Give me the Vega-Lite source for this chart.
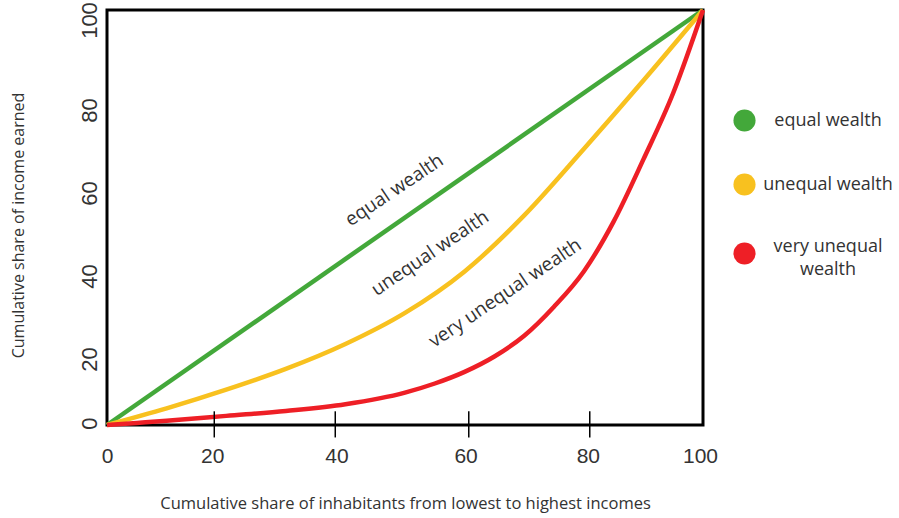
{
  "$schema": "https://vega.github.io/schema/vega-lite/v6.json",
  "width": 596,
  "height": 415,
  "autosize": {"type": "none"},
  "padding": {"left": 107, "top": 10, "right": 196, "bottom": 93},
  "background": "white",
  "config": {"view": {"stroke": "black", "strokeWidth": 3}, "font": "Open Sans"},
  "datasets": {
    "curves": [
      {"share": 0, "income": 0, "series": "equal wealth"},
      {"share": 100, "income": 100, "series": "equal wealth"},
      {"share": 0, "income": 0, "series": "unequal wealth"},
      {"share": 10, "income": 4, "series": "unequal wealth"},
      {"share": 20, "income": 8.5, "series": "unequal wealth"},
      {"share": 30, "income": 13.5, "series": "unequal wealth"},
      {"share": 40, "income": 19.5, "series": "unequal wealth"},
      {"share": 50, "income": 27, "series": "unequal wealth"},
      {"share": 60, "income": 37, "series": "unequal wealth"},
      {"share": 70, "income": 50.5, "series": "unequal wealth"},
      {"share": 80, "income": 66.5, "series": "unequal wealth"},
      {"share": 90, "income": 83, "series": "unequal wealth"},
      {"share": 100, "income": 100, "series": "unequal wealth"},
      {"share": 0, "income": 0, "series": "very unequal wealth"},
      {"share": 5, "income": 0.5, "series": "very unequal wealth"},
      {"share": 10, "income": 1, "series": "very unequal wealth"},
      {"share": 20, "income": 2.2, "series": "very unequal wealth"},
      {"share": 30, "income": 3.4, "series": "very unequal wealth"},
      {"share": 40, "income": 5, "series": "very unequal wealth"},
      {"share": 50, "income": 7.8, "series": "very unequal wealth"},
      {"share": 55, "income": 10, "series": "very unequal wealth"},
      {"share": 60, "income": 12.8, "series": "very unequal wealth"},
      {"share": 65, "income": 16.5, "series": "very unequal wealth"},
      {"share": 70, "income": 21.5, "series": "very unequal wealth"},
      {"share": 75, "income": 28.5, "series": "very unequal wealth"},
      {"share": 80, "income": 37, "series": "very unequal wealth"},
      {"share": 85, "income": 49, "series": "very unequal wealth"},
      {"share": 90, "income": 64, "series": "very unequal wealth"},
      {"share": 95, "income": 80, "series": "very unequal wealth"},
      {"share": 100, "income": 100, "series": "very unequal wealth"}
    ],
    "ticks": [{"value": 18.0}, {"value": 38.3}, {"value": 60.7}, {"value": 81.0}],
    "annotations": [
      {"label": "equal wealth", "share": 48.2, "income": 56.6},
      {"label": "unequal wealth", "share": 54.2, "income": 41.4},
      {"label": "very unequal wealth", "share": 66.8, "income": 31.8}
    ]
  },
  "layer": [
    {
      "data": {"name": "curves"},
      "mark": {"type": "line", "strokeWidth": 4.5, "interpolate": "monotone", "clip": false},
      "encoding": {
        "x": {
          "field": "share", "type": "quantitative",
          "scale": {"domain": [0, 100], "nice": false, "zero": false},
          "axis": {
            "title": "Cumulative share of inhabitants from lowest to highest incomes",
            "titleFont": "Open Sans", "titleFontSize": 16.5, "titleFontWeight": "normal", "titleColor": "#333",
            "titleY": 78, "titleBaseline": "middle",
            "values": [0, 20, 40, 60, 80, 100],
            "labelFont": "Liberation Sans", "labelFontSize": 21, "labelColor": "#333",
            "labelPadding": 20, "labelFlush": false, "labelOverlap": false,
            "labelOffset": {"expr": "datum.value == 20 ? -14 : datum.value == 40 ? -9 : datum.value == 60 ? 1 : datum.value == 80 ? 4 : datum.value == 100 ? -3 : 0"},
            "ticks": false, "domain": false, "grid": false
          }
        },
        "y": {
          "field": "income", "type": "quantitative",
          "scale": {"domain": [0, 100], "nice": false, "zero": false},
          "axis": {
            "title": "Cumulative share of income earned",
            "titleFont": "Open Sans", "titleFontSize": 16, "titleFontWeight": "normal", "titleColor": "#333",
            "titleX": -89, "titleY": 215, "titleAngle": 270, "titleBaseline": "middle", "titleAlign": "center",
            "values": [0, 20, 40, 60, 80, 100],
            "labelFont": "Liberation Sans", "labelFontSize": 22, "labelColor": "#333",
            "labelAngle": 270, "labelAlign": "center", "labelBaseline": "bottom", "labelPadding": 6,
            "labelFlush": false, "labelOverlap": false,
            "labelOffset": {"expr": "datum.value == 0 ? -2 : datum.value == 100 ? 10 : 17"},
            "ticks": false, "domain": false, "grid": false
          }
        },
        "color": {
          "field": "series", "type": "nominal",
          "scale": {"domain": ["equal wealth", "unequal wealth", "very unequal wealth"], "range": ["#43a83a", "#f8c11f", "#ee1f26"]},
          "legend": {
            "orient": "none", "legendX": 626, "legendY": 99, "title": null, "padding": 0,
            "symbolType": "circle", "symbolSize": 490, "symbolStrokeWidth": 0,
            "labelFont": "Open Sans", "labelFontSize": 18, "labelColor": "#333",
            "labelAlign": "center", "labelOffset": 72, "labelLimit": 300,
            "rowPadding": 41,
            "labelExpr": "datum.label == 'very unequal wealth' ? ['very unequal', 'wealth'] : datum.label",
            "encode": {
              "symbols": {"update": {"fill": {"scale": "color", "field": "value"}, "strokeWidth": {"value": 0}}},
              "labels": {"update": {"lineHeight": {"value": 23}, "dy": [{"test": "datum.value == 'very unequal wealth'", "value": -7}, {"value": 0}]}}
            }
          }
        }
      }
    },
    {
      "data": {"name": "ticks"},
      "mark": {"type": "rule", "color": "black", "strokeWidth": 1.5},
      "encoding": {
        "x": {"field": "value", "type": "quantitative"},
        "y": {"datum": -3},
        "y2": {"datum": 3.3}
      }
    },
    {
      "data": {"name": "annotations"},
      "mark": {"type": "text", "angle": 326, "fontSize": 19, "font": "Open Sans", "color": "#333", "align": "center", "baseline": "middle"},
      "encoding": {
        "x": {"field": "share", "type": "quantitative"},
        "y": {"field": "income", "type": "quantitative"},
        "text": {"field": "label"}
      }
    }
  ]
}
